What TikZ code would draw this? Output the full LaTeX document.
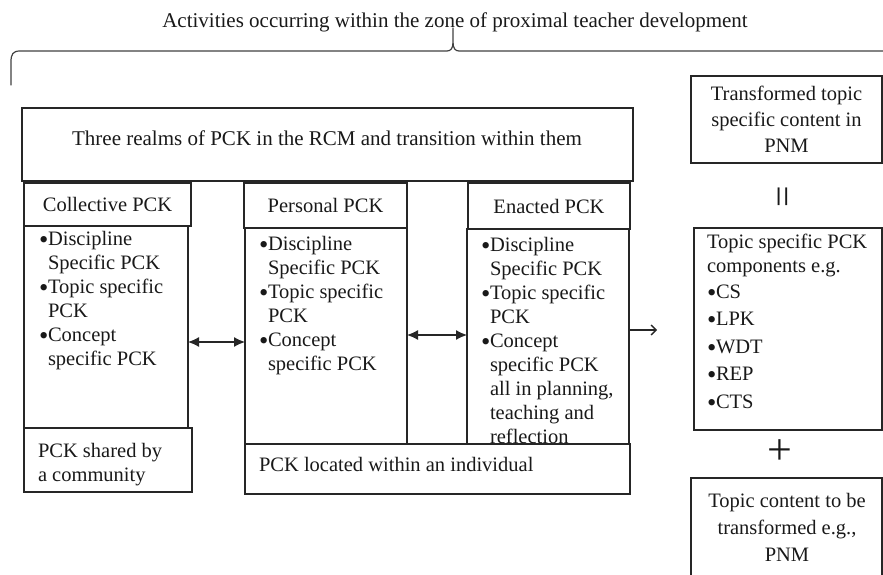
\documentclass[tikz,border=0pt]{standalone}
\usepackage{fontspec}
\setmainfont{Liberation Serif}
\usetikzlibrary{arrows.meta,fit,positioning}
\tikzset{
  box/.style={draw=black!85, line width=1.2pt, inner sep=0pt, outer sep=0pt, rectangle},
  txt/.style={inner sep=0pt, outer sep=0pt, font=\fontsize{20.5}{24}\selectfont, text=black!90},
  ltxt/.style={txt, align=left, anchor=north west},
  ctxt/.style={txt, align=center},
  dbl/.style={line width=1.2pt, draw=black!85, {Latex[length=11pt,width=10pt]}-{Latex[length=11pt,width=10pt]}},
  openarr/.style={line width=1.2pt, draw=black!85, -{Straight Barb[length=5pt,width=10pt,line width=1.4pt]}},
  brace/.style={line width=1.2pt, draw=black!75, line cap=round}
}
\newcommand{\bl}{\makebox[9pt][l]{\raisebox{-3.2pt}{\scalebox{1.3}{•}}}}
\newcommand{\ind}{\hspace*{9pt}}
\begin{document}
\begin{tikzpicture}[x=1pt,y=-1pt]
\useasboundingbox (0,0) rectangle (883,575);
% title and brace
\node[txt, anchor=base, font=\fontsize{21}{24}\selectfont] (title) at (455,28) {Activities occurring within the zone of proximal teacher development};
\coordinate (bl) at (11,85);
\coordinate (br) at (895,51);
\draw[brace] (bl) -- (11,62) .. controls (11,54) and (13,51) .. (20,51) -- (447,51)
  .. controls (451,51) and (453,48) .. (453,42) -- (453,28)
  (453,42) .. controls (453,48) and (455,51) .. (459,51) -- (br);
% big box
\node[box, fit={(22,108) (633,181)}] (realms) {};
\node[ctxt, font=\fontsize{21}{24}\selectfont] at (327,138) {Three realms of PCK in the RCM and transition within them};
% collective
\node[box, fit={(24,183) (191,226)}] (collh) {};
\node[ctxt] at (collh.center) {Collective PCK};
\node[box, fit={(24,226) (188,428)}] (collb) {};
\node[ltxt] (colltxt) at (39,231) {\bl Discipline\\\ind Specific PCK\\\bl Topic specific\\\ind PCK\\\bl Concept\\\ind specific PCK};
\node[box, fit={(24,428) (192,492)}] (collf) {};
\node[ltxt] at (38,443) {PCK shared by\\a community};
% personal
\node[box, fit={(244,183) (407,228)}] (persh) {};
\node[ctxt] at (persh.center) {Personal PCK};
\node[box, fit={(245,228) (407,444)}] (persb) {};
\node[ltxt] (perstxt) at (259,236) {\bl Discipline\\\ind Specific PCK\\\bl Topic specific\\\ind PCK\\\bl Concept\\\ind specific PCK};
% enacted
\node[box, fit={(468,183) (630,229)}] (enh) {};
\node[ctxt] at (enh.center) {Enacted PCK};
\node[box, fit={(467,229) (629,444)}] (enb) {};
\node[ltxt] (entxt) at (481,237) {\bl Discipline\\\ind Specific PCK\\\bl Topic specific\\\ind PCK\\\bl Concept\\\ind specific PCK\\\ind all in planning,\\\ind teaching and\\\ind reflection};
\node[box, fill=white, fit={(245,444) (630,494)}] (persf) {};
\node[ltxt] at (259,457) {PCK located within an individual};
% arrows
\draw[dbl] (collb.east |- 0,342) -- (persb.west |- 0,342);
\draw[dbl] (persb.east |- 0,335) -- (enb.west |- 0,335);
\coordinate (arrend) at (657,330);
\draw[openarr] (enb.east |- arrend) -- (arrend);
% right column
\node[box, fit={(691,76) (882,163)}] (trans) {};
\node[ctxt, font=\fontsize{20.5}{26}\selectfont] at (trans.center) {Transformed topic\\specific content in\\PNM};
\node[ctxt, rotate=90, font=\fontsize{38}{38}\selectfont] (eq) at (787,197) {=};
\node[box, fit={(694,228) (882,430)}] (comp) {};
\node[ltxt] at (707,234) {Topic specific PCK\\components e.g.\\[2pt]\bl CS\\[3pt]\bl LPK\\[4pt]\bl WDT\\[3pt]\bl REP\\[4pt]\bl CTS};
\node[ctxt, font=\fontsize{44}{44}\selectfont] (plus) at (780,452) {+};
\node[box, fit={(691,478) (882,590)}] (content) {};
\node[ctxt, font=\fontsize{20.5}{27}\selectfont] at (787,527) {Topic content to be\\transformed e.g.,\\PNM};
\end{tikzpicture}
\end{document}
